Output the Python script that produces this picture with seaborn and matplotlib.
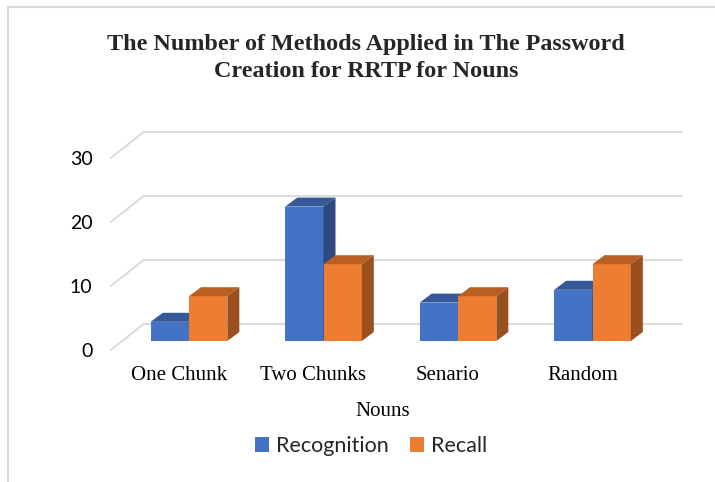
import pandas as pd
import seaborn as sns
import matplotlib.pyplot as plt
from matplotlib import transforms
from matplotlib.patches import Polygon
from matplotlib.lines import Line2D

categories = ["One Chunk", "Two Chunks", "Senario", "Random"]
recognition = [3, 21, 6, 8]
recall = [7, 12, 7, 12]
series = ["Recognition", "Recall"]
y_ticks = [0, 10, 20, 30]

front_col = {"Recognition": "#4472C4", "Recall": "#ED7D31"}
top_col = {"Recognition": "#36599A", "Recall": "#B85F24"}
side_col = {"Recognition": "#2C4A80", "Recall": "#9A4F1E"}
grid_col = "#D9D9D9"

df = pd.DataFrame({
    "Noun": categories * 2,
    "Count": recognition + recall,
    "Method": ["Recognition"] * len(categories) + ["Recall"] * len(categories),
})

sns.set_theme(style="white")
plt.rcParams["font.family"] = ["Liberation Serif", "DejaVu Serif"]

W, H = 715, 482
fig = plt.figure(figsize=(W / 100, H / 100), dpi=100)
ax = fig.add_axes([121.75 / W, 141 / H, 538 / W, 211.2 / H])

sns.barplot(data=df, x="Noun", y="Count", hue="Method", hue_order=series,
            palette=[front_col[s] for s in series], width=0.57, saturation=1,
            linewidth=0, ax=ax)
ax.set_xlim(-0.5, 3.5)
ax.set_ylim(0, 33)
sns.despine(ax=ax, left=True, bottom=True)

# pseudo-3D offsets in pixels
back = (22, 17)
floor = (-11, -9)
depth = (12, 9)
ident = transforms.IdentityTransform()

# back wall gridlines + left diagonals
for v in y_ticks:
    ax.plot([-0.5, 3.5], [v, v], color=grid_col, lw=1.3, clip_on=False, zorder=0,
            transform=ax.transData + transforms.Affine2D().translate(*back))
    px, py = ax.transData.transform((-0.5, v))
    ax.add_line(Line2D([px + floor[0], px + back[0]], [py + floor[1], py + back[1]],
                       color=grid_col, lw=1.3, transform=ident, clip_on=False, zorder=0))

# top and side faces of the bars
for z, (cont, s) in enumerate(zip(ax.containers, series)):
    for bar in cont:
        bar.set_zorder(3 + z)
        x0, w, h = bar.get_x(), bar.get_width(), bar.get_height()
        X0, Y0 = ax.transData.transform((x0, 0))
        X1, Yh = ax.transData.transform((x0 + w, h))
        dx, dy = depth
        top = Polygon([(X0, Yh), (X1, Yh), (X1 + dx, Yh + dy), (X0 + dx, Yh + dy)],
                      closed=True, facecolor=top_col[s], edgecolor="none",
                      transform=ident, clip_on=False, zorder=3 + z)
        side = Polygon([(X1, Y0), (X1, Yh), (X1 + dx, Yh + dy), (X1 + dx, Y0 + dy)],
                       closed=True, facecolor=side_col[s], edgecolor="none",
                       transform=ident, clip_on=False, zorder=3 + z)
        ax.add_patch(top)
        ax.add_patch(side)

ax.set_yticks(y_ticks)
ax.tick_params(axis="both", length=0)
ax.tick_params(axis="y", pad=21)
ax.tick_params(axis="x", pad=18)
for lab in ax.get_yticklabels():
    lab.set_fontfamily("Lato")
    lab.set_fontsize(14)
    lab.set_color("black")
    lab.set_transform(lab.get_transform() + transforms.Affine2D().translate(0, -9))
for lab in ax.get_xticklabels():
    lab.set_fontsize(15)
    lab.set_color("black")
    lab.set_transform(lab.get_transform() + transforms.Affine2D().translate(-10, 0))

ax.set_ylabel("")
ax.set_xlabel("Nouns", fontsize=15, color="black")
ax.xaxis.set_label_coords((383 - 121.75) / 538, -(411 - 341) / 211.2)
ax.xaxis.label.set_va("center")

fig.text(366 / W, 1 - 58 / H,
         "The Number of Methods Applied in The Password\nCreation for RRTP for Nouns",
         ha="center", va="center", fontsize=17.4, fontweight="bold", linespacing=1.42)

sns.move_legend(ax, "center", bbox_to_anchor=(371 / W, 36 / H), bbox_transform=fig.transFigure,
                ncol=2, title=None, frameon=False, handlelength=0.65, handleheight=0.65,
                handletextpad=0.3, columnspacing=1.0, prop={"family": "Lato", "size": 15.5})

# chart frame
fig.add_artist(Line2D([8 / W, 8 / W], [0, 1 - 7 / H], transform=fig.transFigure, color=grid_col, lw=1.5))
fig.add_artist(Line2D([8 / W, 1], [1 - 7 / H, 1 - 7 / H], transform=fig.transFigure, color=grid_col, lw=1.5))

fig.savefig("out.png", dpi=100)
